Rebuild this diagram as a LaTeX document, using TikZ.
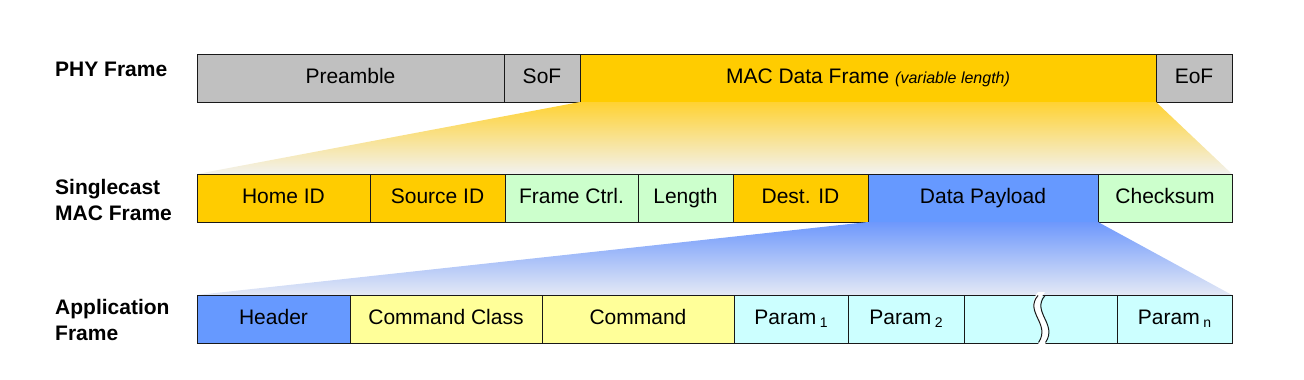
\documentclass[tikz,border=0pt]{standalone}
\usepackage{fontspec}
\setmainfont{Liberation Sans}
\definecolor{cgray}{RGB}{192,192,192}
\definecolor{cgold}{RGB}{255,204,0}
\definecolor{cgreen}{RGB}{204,255,204}
\definecolor{cblue}{RGB}{102,153,255}
\definecolor{cyel}{RGB}{255,255,153}
\definecolor{ccyan}{RGB}{204,255,255}
\definecolor{gtop}{RGB}{255,210,50}
\definecolor{gmid}{RGB}{250,224,135}
\definecolor{gbot}{RGB}{242,242,240}
\definecolor{btop}{RGB}{110,152,252}
\definecolor{bmid}{RGB}{170,195,245}
\definecolor{bbot}{RGB}{228,233,245}
\newcommand{\sbs}[1]{\,\raisebox{-3pt}{\fontsize{14}{14}\selectfont #1}}
\begin{document}
\begin{tikzpicture}[x=1pt,y=-1pt,
  fld/.style={draw=black!90,line width=1pt,inner sep=0pt,outer sep=0pt,anchor=north west,minimum height=48pt,text height=15pt,text depth=4.5pt,font=\fontsize{21}{24}\selectfont},
  rowlbl/.style={anchor=west,align=left,inner sep=0pt,font=\bfseries\fontsize{21}{26}\selectfont}]
\useasboundingbox (0,0) rectangle (1304,380);
% row 1
\node[fld,fill=cgray,minimum width=307pt] (pre) at (197,54) {Preamble};
\node[fld,fill=cgray,minimum width=76pt] (sof) at (504,54) {SoF};
\node[fld,fill=cgold,minimum width=576pt] (mac) at (580,54) {MAC Data Frame {\itshape\fontsize{16}{18}\selectfont (variable length)}};
\node[fld,fill=cgray,minimum width=76pt] (eof) at (1156,54) {EoF};
% row anchors
\coordinate (r2l) at (197,174);
\coordinate (r2r) at (1232,174);
\coordinate (r3l) at (197,295);
\coordinate (r3r) at (1232,295);
% gradients
\shade[top color=gtop,middle color=gmid,bottom color=gbot] (mac.south west) -- (mac.south east) -- (r2r) -- (r2l) -- cycle;
% row 2
\node[fld,fill=cgold,minimum width=173pt] (home) at (197,174) {Home ID};
\node[fld,fill=cgold,minimum width=135pt] (src) at (370,174) {Source ID};
\node[fld,fill=cgreen,minimum width=133pt] (fc) at (505,174) {Frame Ctrl.};
\node[fld,fill=cgreen,minimum width=95pt] (len) at (638,174) {Length};
\node[fld,fill=cgold,minimum width=135pt] (dst) at (733,174) {Dest. ID};
\node[fld,fill=cblue,minimum width=230pt] (pay) at (868,174) {Data Payload};
\node[fld,fill=cgreen,minimum width=134pt] (chk) at (1098,174) {Checksum};
\shade[top color=btop,middle color=bmid,bottom color=bbot] (pay.south west) -- (pay.south east) -- (r3r) -- (r3l) -- cycle;
% row 3
\node[fld,fill=cblue,minimum width=153pt] (hdr) at (197,295) {Header};
\node[fld,fill=cyel,minimum width=192pt] (cc) at (350,295) {Command Class};
\node[fld,fill=cyel,minimum width=192pt] (cmd) at (542,295) {Command};
\node[fld,fill=ccyan,minimum width=114pt] (p1) at (734,295) {Param\sbs{1}};
\node[fld,fill=ccyan,minimum width=116pt] (p2) at (848,295) {Param\sbs{2}};
\node[fld,fill=ccyan,minimum width=153pt] (gap) at (964,295) {};
\node[fld,fill=ccyan,minimum width=115pt] (pn) at (1117,295) {Param\sbs{n}};
% break
\fill[white] (1038,292) .. controls (1022,312) and (1052,324) .. (1037,346) -- (1044,346) .. controls (1059,324) and (1029,312) .. (1045,292) -- cycle;
\draw[black!90,line width=1pt] (1038,295.5) .. controls (1024,312) and (1051,324) .. (1038.5,342.5);
\draw[black!90,line width=1pt] (1045,295.5) .. controls (1031,312) and (1058,324) .. (1045.5,342.5);
% labels
\node[rowlbl] (l1) at (55,69) {PHY Frame};
\node[rowlbl] (l2) at (55,200) {Singlecast\\MAC Frame};
\node[rowlbl] (l3) at (55,320) {Application\\Frame};
\end{tikzpicture}
\end{document}
